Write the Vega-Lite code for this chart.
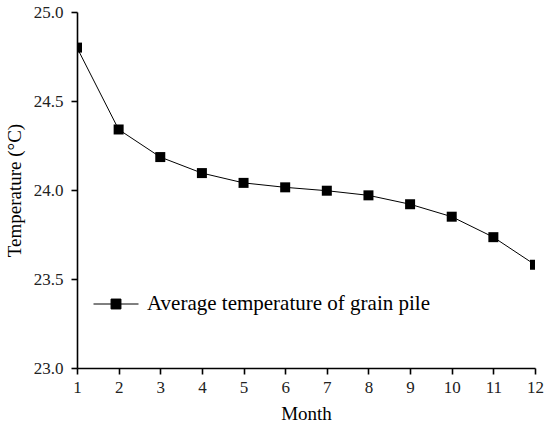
{
  "$schema": "https://vega.github.io/schema/vega-lite/v6.json",
  "autosize": {"type": "none"},
  "width": 458,
  "height": 356,
  "padding": {"left": 77, "top": 12, "right": 15, "bottom": 61},
  "background": "white",
  "config": {
    "view": {"stroke": null},
    "axis": {
      "domainColor": "black",
      "domainWidth": 1.6,
      "tickColor": "black",
      "tickWidth": 1.6,
      "tickSize": 6,
      "grid": false,
      "labelFont": "Liberation Serif",
      "labelFontSize": 17,
      "labelColor": "#222",
      "titleFont": "Liberation Serif",
      "titleFontSize": 19,
      "titleFontWeight": "normal",
      "titleColor": "black"
    }
  },
  "data": {
    "values": [
      {"month": 1, "temp": 24.80, "series": "Average temperature of grain pile"},
      {"month": 2, "temp": 24.34, "series": "Average temperature of grain pile"},
      {"month": 3, "temp": 24.185, "series": "Average temperature of grain pile"},
      {"month": 4, "temp": 24.095, "series": "Average temperature of grain pile"},
      {"month": 5, "temp": 24.04, "series": "Average temperature of grain pile"},
      {"month": 6, "temp": 24.015, "series": "Average temperature of grain pile"},
      {"month": 7, "temp": 23.996, "series": "Average temperature of grain pile"},
      {"month": 8, "temp": 23.97, "series": "Average temperature of grain pile"},
      {"month": 9, "temp": 23.92, "series": "Average temperature of grain pile"},
      {"month": 10, "temp": 23.85, "series": "Average temperature of grain pile"},
      {"month": 11, "temp": 23.735, "series": "Average temperature of grain pile"},
      {"month": 12, "temp": 23.58, "series": "Average temperature of grain pile"}
    ]
  },
  "encoding": {
    "x": {
      "field": "month",
      "type": "quantitative",
      "title": "Month",
      "scale": {"domain": [1, 12], "nice": false, "zero": false},
      "axis": {"values": [1, 2, 3, 4, 5, 6, 7, 8, 9, 10, 11, 12], "format": "d", "labelFont": "Liberation Serif", "labelFontSize": 17, "labelPadding": 5, "titlePadding": 9, "labelFlush": false}
    },
    "y": {
      "field": "temp",
      "type": "quantitative",
      "title": "Temperature (°C)",
      "scale": {"domain": [23, 25], "nice": false, "zero": false},
      "axis": {"values": [23, 23.5, 24, 24.5, 25], "format": ".1f", "labelFont": "Liberation Serif", "labelFontSize": 17, "labelPadding": 8, "titlePadding": 9, "labelFlush": false}
    }
  },
  "layer": [
    {
      "mark": {"type": "line", "color": "black", "strokeWidth": 1, "clip": true},
      "encoding": {}
    },
    {
      "mark": {"type": "point", "shape": "square", "filled": true, "size": 100, "opacity": 1, "clip": true},
      "encoding": {
        "color": {
          "field": "series",
          "type": "nominal",
          "scale": {"range": ["black"]},
          "legend": {
            "title": null,
            "orient": "none",
            "legendX": 16,
            "legendY": 269,
            "symbolType": "M-1,0H1M-0.22,-0.22H0.22V0.22H-0.22Z",
            "symbolSize": 2025,
            "symbolStrokeWidth": 1,
            "symbolStrokeColor": "black",
            "symbolFillColor": "black",
            "labelFont": "Liberation Serif",
            "labelFontSize": 21,
            "labelColor": "black",
            "labelOffset": 8,
            "labelLimit": 400
          }
        }
      }
    }
  ]
}
